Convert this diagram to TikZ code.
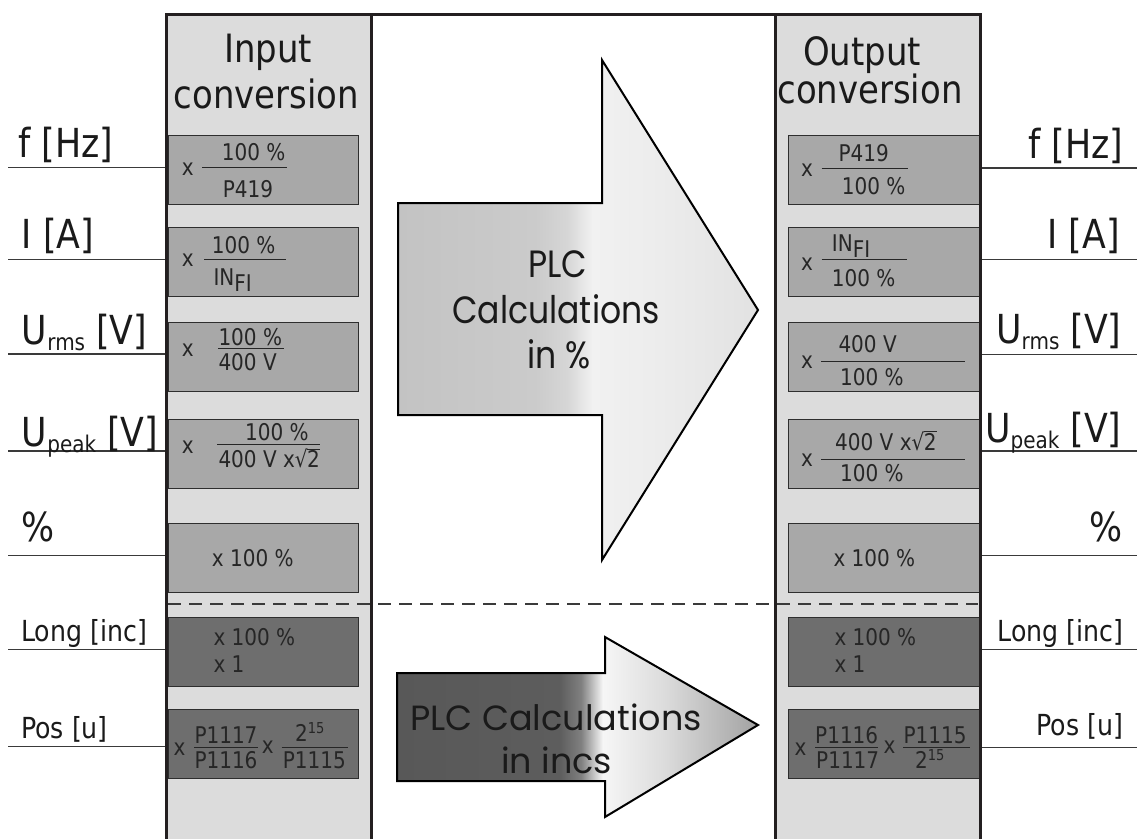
\documentclass[tikz,border=0pt]{standalone}
\usepackage{fontspec}
\usepackage{amsmath}
\setmainfont{DejaVu Sans}[FakeStretch=0.87]
\newfontfamily\gothic{Poppins}[FakeStretch=0.87]
\newfontfamily\gothicw{Poppins}
\definecolor{colgray}{HTML}{DCDCDC}
\definecolor{framec}{HTML}{231F20}
\definecolor{boxA}{HTML}{A8A8A8}
\definecolor{boxB}{HTML}{6E6E6E}
\definecolor{boxline}{HTML}{2E2E2E}
\definecolor{btext}{HTML}{262626}
\definecolor{lineg}{HTML}{3A3A3A}
\definecolor{txt}{HTML}{1A1A1A}
\definecolor{ua}{HTML}{C3C3C3}
\definecolor{ub}{HTML}{CBCBCB}
\definecolor{uc}{HTML}{D6D6D6}
\definecolor{ud}{HTML}{F1F1F1}
\definecolor{ue}{HTML}{EDEDED}
\definecolor{uf}{HTML}{E2E2E2}
\definecolor{la}{HTML}{585858}
\definecolor{lb}{HTML}{5D5D5D}
\definecolor{lc}{HTML}{808080}
\definecolor{ld}{HTML}{F6F6F6}
\definecolor{le}{HTML}{DCDCDC}
\definecolor{lf}{HTML}{A2A2A2}
\pgfdeclarehorizontalshading{upshade}{100bp}{color(0bp)=(ua); color(25bp)=(ua); color(44bp)=(ub); color(48.5bp)=(uc); color(52bp)=(ud); color(60bp)=(ue); color(75bp)=(uf); color(100bp)=(uf)}
\pgfdeclarehorizontalshading{loshade}{100bp}{color(0bp)=(la); color(25bp)=(la); color(47.5bp)=(lb); color(50.5bp)=(lc); color(53.5bp)=(ld); color(62bp)=(le); color(75bp)=(lf); color(100bp)=(lf)}
\newcommand\subl[1]{\raisebox{-6pt}{\fontsize{23}{23}\selectfont #1}}
\newcommand\subb[1]{\raisebox{-6pt}{#1}}
\newcommand\supb[1]{\raisebox{8pt}{\fontsize{15}{15}\selectfont #1}}
\newcommand\rtwo{\setbox0\hbox{√}\setbox2\hbox{2}\copy0\kern-0.6pt\rlap{\rule[\dimexpr\ht0-0.9pt\relax]{\wd2}{0.9pt}}\box2}
\begin{document}
\begin{tikzpicture}[x=1pt,y=-1pt,
  colfill/.style={fill=colgray, inner sep=0, minimum width=205pt, minimum height=860pt, anchor=north west},
  framel/.style={draw=framec, line width=3pt},
  cboxA/.style={fill=boxA, draw=boxline, line width=1pt, inner sep=0, minimum height=69pt},
  cboxB/.style={cboxA, fill=boxB},
  lw/.style={minimum width=190pt},
  rw/.style={minimum width=191pt},
  lbl/.style={font=\fontsize{40}{44}\selectfont, inner sep=0, text=txt},
  slbl/.style={font=\fontsize{29}{34}\selectfont, inner sep=0, text=txt},
  ttl/.style={font=\fontsize{39}{44}\selectfont, inner sep=0, text=txt, anchor=base},
  btxt/.style={font=\fontsize{23}{27}\selectfont, inner sep=0, anchor=base west, text=btext},
  fline/.style={line width=1pt, draw=btext},
  conn/.style={line width=1.3pt, draw=lineg},
  arrowsty/.style={draw=black, line width=2pt, shade},
  plc/.style={font=\gothic\fontsize{38}{44}\selectfont, inner sep=0, anchor=base, text=txt},
  plcs/.style={font=\gothicw\fontsize{35}{40}\selectfont, inner sep=0, anchor=base, text=txt},
  dashl/.style={draw=lineg, line width=1.3pt, dash pattern=on 13pt off 8pt}
]
\useasboundingbox (0,0) rectangle (1137,838);
% columns
\node[colfill] (colL) at (166,14) {};
\node[colfill] (colR) at (775,14) {};
% left boxes
\node[cboxA,lw] (L1) at (263,169.5) {};
\node[cboxA,lw] (L2) at (263,262) {};
\node[cboxA,lw] (L3) at (263,357) {};
\node[cboxA,lw] (L4) at (263,454) {};
\node[cboxA,lw] (L5) at (263,558) {};
\node[cboxB,lw] (L6) at (263,652) {};
\node[cboxB,lw] (L7) at (263,744) {};
% right boxes
\node[cboxA,rw] (R1) at (883.5,169.5) {};
\node[cboxA,rw] (R2) at (883.5,262) {};
\node[cboxA,rw] (R3) at (883.5,357) {};
\node[cboxA,rw] (R4) at (883.5,454) {};
\node[cboxA,rw] (R5) at (883.5,558) {};
\node[cboxB,rw] (R6) at (883.5,652) {};
\node[cboxB,rw] (R7) at (883.5,744) {};
% column titles
\node[ttl] (tIn1) at (268,62) {Input};
\node[ttl] (tIn2) at (266.5,108.3) {conversion};
\node[ttl] (tOut1) at (862,65) {Output};
\node[ttl] (tOut2) at (870,103.3) {conversion};
% left box contents
\node[btxt] (l1x) at (181.7,175) {x};
\draw[fline] (202,167.7) -- (287,167.7);
\node[btxt] (l1n) at (221.7,160) {100 \%};
\node[btxt] (l1d) at (222.7,197) {P419};
\node[btxt] (l2x) at (181.7,266.7) {x};
\draw[fline] (204,259.3) -- (285.7,259.3);
\node[btxt] (l2n) at (211.7,253) {100 \%};
\node[btxt] (l2d) at (213.3,285) {IN\subb{FI}};
\node[btxt] (l3x) at (181.7,356) {x};
\draw[fline] (218.3,348.3) -- (284,348.3);
\node[btxt] (l3n) at (218.3,345) {100 \%};
\node[btxt] (l3d) at (218.3,370.7) {400 V};
\node[btxt] (l4x) at (181.7,453.3) {x};
\draw[fline] (217.3,444.5) -- (320,444.5);
\node[btxt] (l4n) at (245,440.5) {100 \%};
\node[btxt] (l4d) at (218.3,467.5) {400 V x\rtwo};
\node[btxt] (l5) at (211.7,566) {x 100 \%};
\node[btxt] (l6a) at (213.3,645) {x 100 \%};
\node[btxt] (l6b) at (213.3,672.7) {x 1};
\node[btxt] (l7x) at (173.3,755) {x};
\draw[fline] (194.3,747.7) -- (257.7,747.7);
\node[btxt] (l7n) at (194.3,743) {P1117};
\node[btxt] (l7d) at (194.3,768.3) {P1116};
\node[btxt] (l7x2) at (261.7,753) {x};
\draw[fline] (281.7,747.7) -- (348.3,747.7);
\node[btxt] (l7n2) at (295,741.7) {2\supb{15}};
\node[btxt] (l7d2) at (282.7,768.3) {P1115};
% right box contents
\node[btxt] (r1x) at (801,176.7) {x};
\draw[fline] (821.7,168) -- (908.3,168);
\node[btxt] (r1n) at (838.3,161.7) {P419};
\node[btxt] (r1d) at (841.7,194) {100 \%};
\node[btxt] (r2x) at (801,270) {x};
\draw[fline] (821.7,259.3) -- (906.7,259.3);
\node[btxt] (r2n) at (831.7,251.7) {IN\subb{FI}};
\node[btxt] (r2d) at (831.7,286.7) {100 \%};
\node[btxt] (r3x) at (801,368.3) {x};
\draw[fline] (821,361) -- (965,361);
\node[btxt] (r3n) at (838.3,352) {400 V};
\node[btxt] (r3d) at (840,385) {100 \%};
\node[btxt] (r4x) at (801,466.7) {x};
\draw[fline] (821,459) -- (965,459);
\node[btxt] (r4n) at (835,450) {400 V x\rtwo};
\node[btxt] (r4d) at (840,481.7) {100 \%};
\node[btxt] (r5) at (833.3,566) {x 100 \%};
\node[btxt] (r6a) at (834.3,645) {x 100 \%};
\node[btxt] (r6b) at (834.3,672.7) {x 1};
\node[btxt] (r7x) at (794.3,755) {x};
\draw[fline] (815,747.7) -- (878.3,747.7);
\node[btxt] (r7n) at (815,743) {P1116};
\node[btxt] (r7d) at (816,768.3) {P1117};
\node[btxt] (r7x2) at (883.3,753) {x};
\draw[fline] (903.3,747.7) -- (970,747.7);
\node[btxt] (r7n2) at (903.3,743) {P1115};
\node[btxt] (r7d2) at (915,768.3) {2\supb{15}};
% arrows
\draw[arrowsty, shading=upshade] (398,203) -- (602,203) -- (602,60) -- (758,310) -- (602,560) -- (602,415) -- (398,415) -- cycle;
\node[plc] (p1) at (558,277) {PLC};
\node[plc] (p2) at (556,323) {Calculations};
\node[plc] (p3) at (559,368) {in \%};
\draw[arrowsty, shading=loshade] (397,673) -- (605,673) -- (605,637) -- (758,725) -- (605,817) -- (605,781) -- (397,781) -- cycle;
\node[plcs] (q1) at (556,730) {PLC Calculations};
\node[plcs] (q2) at (556.7,773.3) {in incs};
% dashed separator
\coordinate (dl) at (168,604);
\coordinate (dr) at (978,604);
\draw[dashl] (dl) -- (dr);
% external lines
\coordinate (iF) at (8,167.7);
\coordinate (iI) at (8,259.3);
\coordinate (iUr) at (8,354);
\coordinate (iUp) at (8,451);
\coordinate (iP) at (8,555.3);
\coordinate (iL) at (8,649.3);
\coordinate (iPos) at (8,746.7);
\foreach \c in {iF,iI,iUr,iUp,iP,iL,iPos} \draw[conn] (\c) -- (\c -| colL.west);
\coordinate (oF) at (1137,168);
\coordinate (oI) at (1137,259.3);
\coordinate (oUr) at (1137,354.3);
\coordinate (oUp) at (1137,451);
\coordinate (oP) at (1137,555.3);
\coordinate (oL) at (1137,649.3);
\coordinate (oPos) at (1137,747.3);
\foreach \c in {oF,oI,oUr,oUp,oP,oL,oPos} \draw[conn] (\c -| colR.east) -- (\c);
% column frames
\draw[framel] (colL.south west) -- (colL.north west) -- (colR.north east) -- (colR.south east);
\draw[framel] (colL.north east) -- (colL.south east);
\draw[framel] (colR.north west) -- (colR.south west);
% labels left
\node[lbl, anchor=base west] (aF) at (18.3,157) {f [Hz]};
\node[lbl, anchor=base west] (aI) at (21.7,248) {I [A]};
\node[lbl, anchor=base west] (aUr) at (21.7,344) {U\subl{rms} [V]};
\node[lbl, anchor=base west] (aUp) at (21.7,446) {U\subl{peak} [V]};
\node[lbl, anchor=base west] (aP) at (21.7,541.7) {\%};
\node[slbl, anchor=base west] (aL) at (21,641) {Long [inc]};
\node[slbl, anchor=base west] (aPos) at (21,738) {Pos [u]};
% labels right
\node[lbl, anchor=base east] (bF) at (1123.3,158.3) {f [Hz]};
\node[lbl, anchor=base east] (bI) at (1120,248) {I [A]};
\node[lbl, anchor=base east] (bUr) at (1121.7,343.3) {U\subl{rms} [V]};
\node[lbl, anchor=base east] (bUp) at (1121.7,442.3) {U\subl{peak} [V]};
\node[lbl, anchor=base east] (bP) at (1122.7,541.7) {\%};
\node[slbl, anchor=base east] (bL) at (1123.3,641.7) {Long [inc]};
\node[slbl, anchor=base east] (bPos) at (1123.3,735) {Pos [u]};
\end{tikzpicture}
\end{document}
